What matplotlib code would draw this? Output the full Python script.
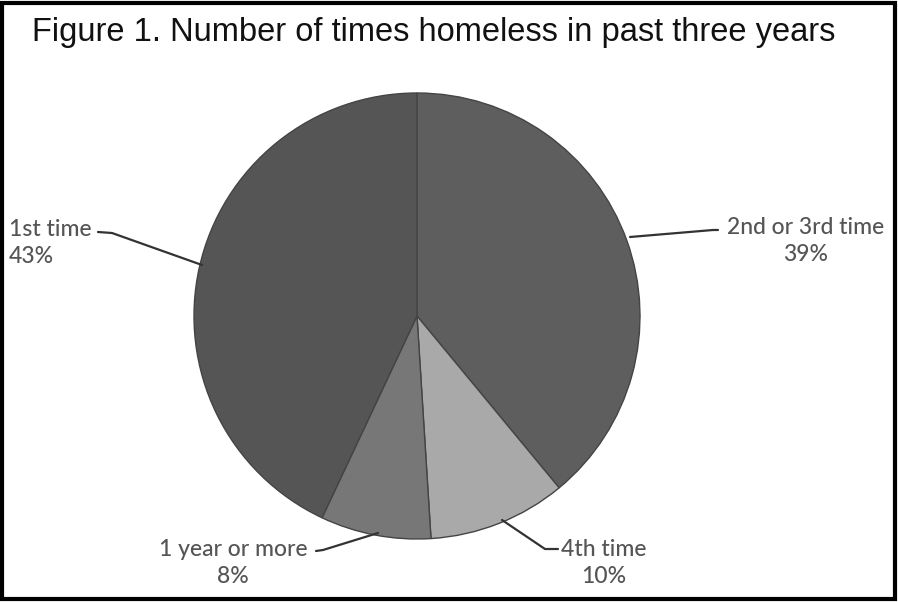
import matplotlib
matplotlib.use("Agg")
import matplotlib.pyplot as plt
from matplotlib.patches import Rectangle

W, H = 898, 602
categories = ["2nd or 3rd time", "4th time", "1 year or more", "1st time"]
values = [39, 10, 8, 43]
colors = ["#5e5e5e", "#a9a9a9", "#777777", "#555555"]
title = "Figure 1. Number of times homeless in past three years"

fig = plt.figure(figsize=(W / 100, H / 100), dpi=100)
ax = fig.add_axes([0, 0, 1, 1])

cx, cy, r = 417, H - 316, 223
wedges, _ = ax.pie(values, colors=colors, startangle=90, counterclock=False,
                   center=(cx, cy), radius=r, frame=True,
                   wedgeprops=dict(edgecolor="#444444", linewidth=1.0))
ax.set_xlim(0, W)
ax.set_ylim(0, H)
ax.set_aspect("equal")
ax.axis("off")

# frame
ax.add_patch(Rectangle((1.5, 3.5), 893, 596, fill=False, edgecolor="black",
                       linewidth=3, transform=ax.transData, clip_on=False))

ax.text(434, H - 32, title, ha="center", va="center", fontsize=23.5,
        family="Liberation Sans", color="#111111")

tcol = "#555555"
lf = dict(family="Lato", fontsize=16.5, color=tcol, va="center",
          linespacing=1.4, fontweight="medium")
labels_pos = {
    "1st time": (9, 243, "left"),
    "2nd or 3rd time": (806, 241, "center"),
    "1 year or more": (233, 563, "center"),
    "4th time": (604, 563, "center"),
}
leaders = {
    "1st time": [(98, 232), (112, 233), (202, 265)],
    "2nd or 3rd time": [(630, 237), (713, 230), (718, 230)],
    "1 year or more": [(316, 551), (323, 550), (378, 533)],
    "4th time": [(502, 520), (545, 549), (558, 549)],
}
for cat, v in zip(categories, values):
    x, y, ha = labels_pos[cat]
    ax.text(x, H - y, f"{cat}\n{v}%", ha=ha, multialignment=ha, **lf)
    pts = leaders[cat]
    ax.plot([p[0] for p in pts], [H - p[1] for p in pts], color="#333333",
            linewidth=1.6, solid_capstyle="round")

fig.savefig("out.png", dpi=100)
